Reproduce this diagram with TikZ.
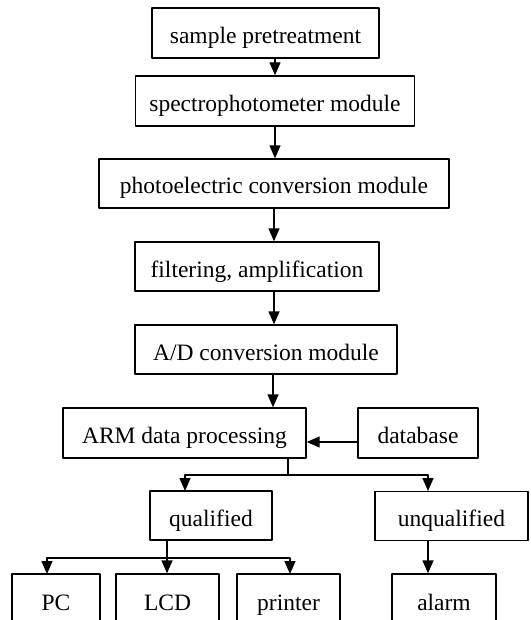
\documentclass[tikz,border=0pt]{standalone}
\usepackage{fontspec}
\setmainfont{Liberation Serif}
\usetikzlibrary{arrows.meta}

\begin{document}
\begin{tikzpicture}[line cap=round,line join=round,>={Triangle[length=13pt,width=11pt]},x=1pt,y=-1pt,line width=1.4pt,
                    box/.style={rectangle, draw, inner sep=0pt, text height=24pt, text depth=3pt, font=\fontsize{23.5}{28}\selectfont}]
                    \useasboundingbox (0,0) rectangle (530,620);

                    % main chain
                    \node[box, minimum width=227pt, minimum height=50pt] (pre) at (265.5,33) {sample pretreatment};
                    \node[box, minimum width=279pt, minimum height=50pt] (spec) at (275,101) {spectrophotometer module};
                    \node[box, minimum width=350pt, minimum height=49pt] (photo) at (274,183.5) {photoelectric conversion module};
                    \node[box, minimum width=244pt, minimum height=49pt] (filt) at (257,266.5) {filtering, amplification};
                    \node[box, minimum width=262pt, minimum height=49pt] (adc) at (266,349.5) {A/D conversion module};
                    \node[box, minimum width=243pt, minimum height=50pt] (arm) at (184.5,433) {ARM data processing};
                    \node[box, minimum width=120pt, minimum height=50pt] (db) at (418,433) {database};

                    \draw[->] (pre.south -| spec.north) -- (spec.north);
                    \draw[->] (spec.south) -- (spec.south |- photo.north);
                    \draw[->] (photo.south) -- (photo.south |- filt.north);
                    \draw[->] (photo.south |- filt.south) -- (photo.south |- adc.north);
                    \draw[->] (273,0 |- adc.south) -- (273,0 |- arm.north);
                    \draw[->] ([yshift=-9pt]db.west) -- ([yshift=-9pt]db.west -| arm.east);

                    % result
                    \node[box, minimum width=122pt, minimum height=49pt] (qual) at (211,515.5) {qualified};
                    \node[box, minimum width=153pt, minimum height=49pt] (unq) at (451.5,516) {unqualified};

                    \coordinate (split) at (288,475);
                    \coordinate (qin) at (185,491);
                    \coordinate (uin) at (428,491);
                    \draw (split |- arm.south) -- (split);
                    \draw[->] (split) -| (qin);
                    \draw[->] (split) -| (uin);

                    % output
                    \node[box, minimum width=88pt, minimum height=51pt] (pc) at (56,599.5) {PC};
                    \node[box, minimum width=103pt, minimum height=51pt] (lcd) at (167.5,599.5) {LCD};
                    \node[box, minimum width=103pt, minimum height=51pt] (prn) at (288.5,599.5) {printer};
                    \node[box, minimum width=104pt, minimum height=51pt] (alarm) at (444,599.5) {alarm};

                    \coordinate (qsplit) at (167,558);
                    \coordinate (pcin) at (47,574);
                    \coordinate (prnin) at (290,574);
                    \draw (qsplit |- qual.south) -- (qsplit);
                    \draw[->] (qsplit) -| (pcin);
                    \draw[->] (qsplit) -- (qsplit |- lcd.north);
                    \draw[->] (qsplit) -| (prnin);
                    \draw[->] (uin |- unq.south) -- (uin |- alarm.north);
                \end{tikzpicture}
\end{document}
